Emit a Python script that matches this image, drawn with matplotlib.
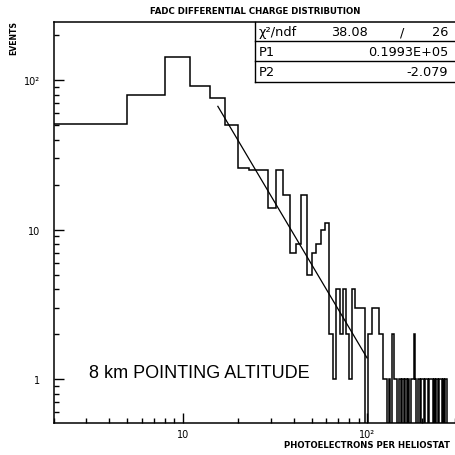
import numpy as np
import matplotlib
matplotlib.use("Agg")
import matplotlib.pyplot as plt
from matplotlib.lines import Line2D
from matplotlib.ticker import FixedLocator, FixedFormatter, LogLocator, NullFormatter

# ---- data ----
bin_start = 2.0
bin_width = 3.0
counts = [51, 79, 142, 92, 76, 50, 26, 25, 25, 14,
          25, 17, 7, 8, 17, 5, 7, 8, 10, 11,
          2, 1, 4, 2, 4, 2, 1, 4, 3, 3,
          3, 3, 0, 2, 2, 3, 3, 3, 2, 2,
          1, 1, 0, 1, 0, 2, 1, 1, 0, 1,
          0, 1, 0, 1, 0, 1, 0, 1, 1, 2,
          1, 0, 1, 1, 0, 1, 1, 0, 1, 1,
          1, 0, 1, 1, 1, 0, 1, 0, 1, 1,
          0, 1, 1, 1, 0, 1, 1, 0, 1, 1,
          0, 0, 0, 0, 0, 0, 0, 0, 0]
fit_p1 = 0.1993e5
fit_p2 = -2.079
fit_range = (15.5, 100.0)
chi2 = "38.08"
ndf = "26"
xtick_vals = [10, 100]
xtick_labels = ["10", "10\u00b2"]
ytick_vals = [1, 10, 100]
ytick_labels = ["1", "10", "10\u00b2"]

W = H = 456.0
fig = plt.figure(figsize=(4.56, 4.56), dpi=100)
L, R, T, B = 54, 456, 23, 424
ax = fig.add_axes([L / W, 1 - B / H, (R - L) / W, (B - T) / H])

edges = bin_start + bin_width * np.arange(len(counts) + 1)
ax.stairs(np.array(counts, dtype=float), edges, baseline=None, color="black", lw=1.1)

xf = np.logspace(np.log10(fit_range[0]), np.log10(fit_range[1]), 100)
ax.plot(xf, fit_p1 * xf ** fit_p2, color="black", lw=0.9)

ax.set_xscale("log")
ax.set_yscale("log")
ax.set_xlim(2.0, 304)
ax.set_ylim(0.508, 245)

ax.xaxis.set_major_locator(FixedLocator(xtick_vals))
ax.xaxis.set_major_formatter(FixedFormatter(xtick_labels))
ax.yaxis.set_major_locator(FixedLocator(ytick_vals))
ax.yaxis.set_major_formatter(FixedFormatter(ytick_labels))
ax.xaxis.set_minor_locator(LogLocator(base=10, subs=np.arange(2, 10)))
ax.yaxis.set_minor_locator(LogLocator(base=10, subs=np.arange(2, 10)))
ax.xaxis.set_minor_formatter(NullFormatter())
ax.yaxis.set_minor_formatter(NullFormatter())
ax.tick_params(which="both", direction="in", top=False, right=False, width=1.0)
ax.tick_params(which="major", length=7, labelsize=7)
ax.tick_params(axis="y", which="major", pad=10)
ax.tick_params(axis="x", which="major", pad=4)
ax.tick_params(which="minor", length=3.5)
for s in ["left", "bottom", "top"]:
    ax.spines[s].set_linewidth(1.1)
ax.spines["right"].set_visible(False)

def fx(px):
    return px / W

def fy(py):
    return 1 - py / H

fig.text(fx(255), fy(12), "FADC DIFFERENTIAL CHARGE DISTRIBUTION", ha="center", va="center",
         fontsize=6.2, fontweight="bold", family="DejaVu Sans")
fig.text(fx(14), fy(38), "EVENTS", ha="center", va="center", rotation=90,
         fontsize=5.6, fontweight="bold", family="DejaVu Sans")
fig.text(fx(284), fy(446), "PHOTOELECTRONS PER HELIOSTAT", ha="left", va="center",
         fontsize=6.1, fontweight="bold", family="DejaVu Sans")

ax.text(fx(89), fy(374), "8 km POINTING ALTITUDE", transform=fig.transFigure,
        ha="left", va="center", fontsize=13, family="Liberation Sans")

# stats box
lines = [((255, 255), (23, 83)), ((255, 456), (83, 83)),
         ((255, 456), (42, 42)), ((255, 456), (62, 62))]
for (x0, x1), (y0, y1) in lines:
    fig.add_artist(Line2D([fx(x0), fx(x1)], [fy(y0), fy(y1)], color="black", lw=1.0))

fs = 9.3
fig.text(fx(259), fy(32.5), "\u03c7\u00b2/ndf", ha="left", va="center", fontsize=fs)
fig.text(fx(368), fy(32.5), chi2, ha="right", va="center", fontsize=fs)
fig.text(fx(402), fy(32.5), "/", ha="center", va="center", fontsize=fs)
fig.text(fx(448), fy(32.5), ndf, ha="right", va="center", fontsize=fs)
fig.text(fx(259), fy(53), "P1", ha="left", va="center", fontsize=fs)
fig.text(fx(448), fy(53), "%.4fE+05" % (fit_p1 / 1e5), ha="right", va="center", fontsize=fs)
fig.text(fx(259), fy(73), "P2", ha="left", va="center", fontsize=fs)
fig.text(fx(448), fy(73), "%.3f" % fit_p2, ha="right", va="center", fontsize=fs)

fig.savefig("out.png", dpi=100)
